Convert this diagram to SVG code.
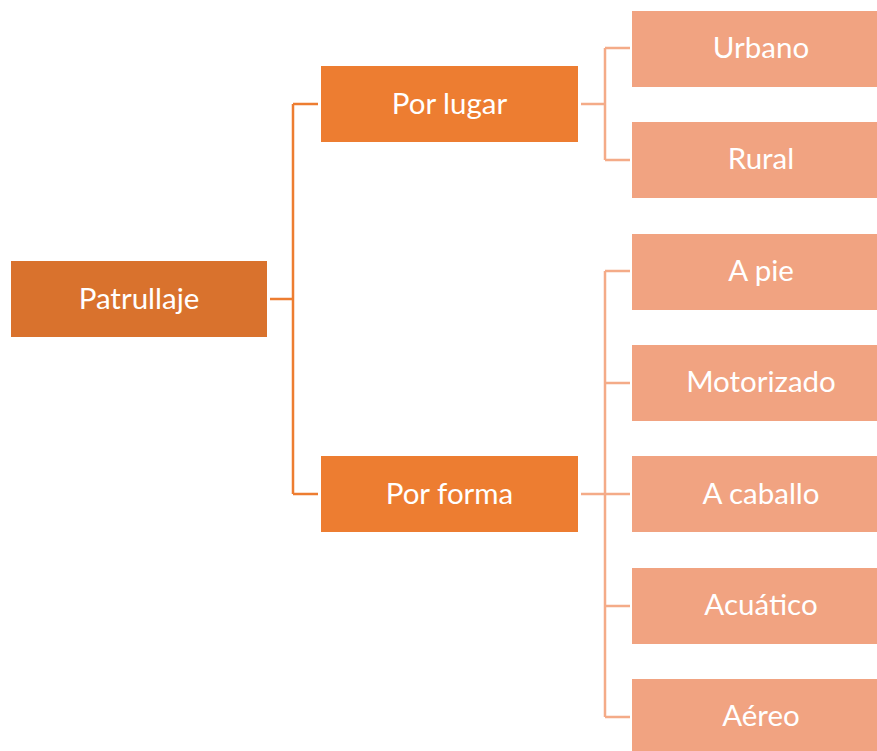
<svg xmlns="http://www.w3.org/2000/svg" width="877" height="751" viewBox="0 0 877 751">
<style>
  text { font-family: Lato, "Liberation Sans", sans-serif; font-size: 29.5px; fill: #ffffff; text-anchor: middle; }
  .l0 { fill: #D9722D; }
  .l1 { fill: #ED7D31; }
  .l2 { fill: #F1A381; }
  .c1 { stroke: #ED7D31; stroke-width: 2.5; fill: none; }
  .c2 { stroke: #F4AB88; stroke-width: 2.5; fill: none; }
</style>
<rect width="877" height="751" fill="#ffffff"/>
<g id="connectors">
  <path class="c1" d="M270 299 H293 M293 104 V494 M293 104 H318 M293 494 H318"/>
  <path class="c2" d="M581 104 H605 M605 48 V160 M605 48 H630 M605 160 H630"/>
  <path class="c2" d="M581 494 H605 M605 271 V717 M605 271 H630 M605 383 H630 M605 494 H630 M605 606 H630 M605 717 H630"/>
</g>
<g id="patrullaje"><rect class="l0" x="11" y="261" width="256" height="76"/><text x="139" y="309">Patrullaje</text></g>
<g id="por-lugar"><rect class="l1" x="321" y="66" width="257" height="76"/><text x="449.5" y="114">Por lugar</text></g>
<g id="por-forma"><rect class="l1" x="321" y="456" width="257" height="76"/><text x="449.5" y="504">Por forma</text></g>
<g id="urbano"><rect class="l2" x="632" y="11" width="245" height="76"/><text x="761" y="58">Urbano</text></g>
<g id="rural"><rect class="l2" x="632" y="122" width="245" height="76"/><text x="761" y="169">Rural</text></g>
<g id="a-pie"><rect class="l2" x="632" y="234" width="245" height="76"/><text x="761" y="281">A pie</text></g>
<g id="motorizado"><rect class="l2" x="632" y="345" width="245" height="76"/><text x="761" y="392">Motorizado</text></g>
<g id="a-caballo"><rect class="l2" x="632" y="456" width="245" height="76"/><text x="761" y="504">A caballo</text></g>
<g id="acuatico"><rect class="l2" x="632" y="568" width="245" height="76"/><text x="761" y="615">Acuático</text></g>
<g id="aereo"><rect class="l2" x="632" y="679" width="245" height="76"/><text x="761" y="726">Aéreo</text></g>
</svg>
